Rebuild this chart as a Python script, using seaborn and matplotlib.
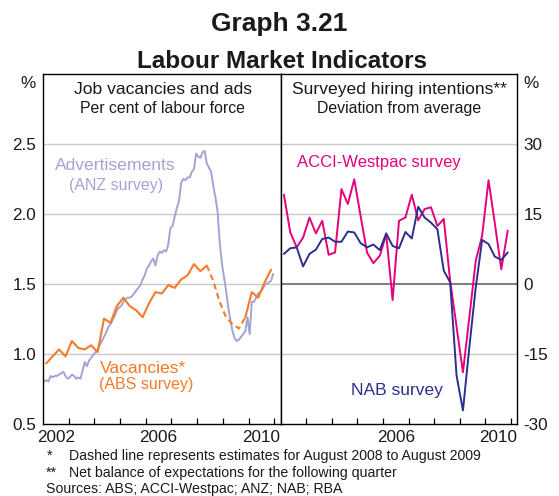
import numpy as np
import pandas as pd
import matplotlib
matplotlib.use("Agg")
import matplotlib.pyplot as plt
import seaborn as sns
from matplotlib.ticker import FixedLocator, FixedFormatter, NullFormatter

# ---------------------------------------------------------------- data
# ANZ job advertisements, per cent of labour force, monthly Jan 2002 - Dec 2010
anz_ads = [
    0.80, 0.81, 0.80, 0.84, 0.83, 0.84, 0.84, 0.85, 0.86, 0.87, 0.84, 0.82,  # 2002
    0.83, 0.85, 0.84, 0.82, 0.83, 0.82, 0.88, 0.94, 0.91, 0.95, 0.97, 0.99,  # 2003
    1.01, 1.03, 1.06, 1.09, 1.12, 1.15, 1.19, 1.21, 1.24, 1.27, 1.31, 1.33,  # 2004
    1.34, 1.37, 1.39, 1.40, 1.40, 1.41, 1.43, 1.45, 1.47, 1.49, 1.53, 1.56,  # 2005
    1.61, 1.63, 1.66, 1.68, 1.63, 1.70, 1.73, 1.72, 1.74, 1.73, 1.78, 1.90,  # 2006
    1.91, 1.98, 2.04, 2.09, 2.22, 2.25, 2.24, 2.26, 2.26, 2.30, 2.32, 2.43,  # 2007
    2.41, 2.40, 2.44, 2.45, 2.36, 2.33, 2.30, 2.20, 2.12, 2.02, 1.80, 1.65,  # 2008
    1.55, 1.45, 1.33, 1.24, 1.16, 1.11, 1.09, 1.10, 1.12, 1.14, 1.16, 1.26,  # 2009
    1.14, 1.37, 1.37, 1.40, 1.43, 1.44, 1.46, 1.49, 1.50, 1.51, 1.52, 1.57,  # 2010
]

# ABS job vacancies, per cent of labour force, quarterly Feb 2002 - Nov 2010
abs_vacancies = [
    0.93, 0.98, 1.03, 0.98,
    1.09, 1.04, 1.03, 1.06,
    1.01, 1.25, 1.22, 1.34,
    1.40, 1.34, 1.31, 1.26,
    1.36, 1.44, 1.43, 1.49,
    1.47, 1.53, 1.56, 1.64,
    1.59, 1.63, 1.52, 1.37,
    1.26, 1.21, 1.18, 1.26,
    1.44, 1.40, 1.51, 1.60,
]
# quarters drawn dashed (estimates Aug 2008 - Aug 2009 and the links to them)
est_first, est_last = 25, 31

# Surveyed hiring intentions, deviation from average, quarterly Feb 2002 - Nov 2010
acci_westpac = [
    19.1, 11.0, 7.8, 9.9,
    14.2, 10.8, 13.5, 6.2,
    6.7, 20.3, 17.1, 22.4,
    14.5, 6.7, 4.4, 6.0,
    10.6, -3.5, 13.5, 14.2,
    19.1, 13.6, 16.0, 16.4,
    12.4, 13.9, 0.6, -9.2,
    -19.0, -7.2, 4.9, 10.3,
    22.2, 12.8, 3.1, 11.4,
]
nab = [
    6.4, 7.6, 7.8, 3.7,
    6.4, 7.3, 9.6, 9.9,
    9.0, 9.0, 11.2, 11.0,
    8.7, 7.8, 8.4, 7.2,
    10.8, 8.1, 7.6, 11.1,
    9.7, 16.5, 14.2, 13.1,
    11.7, 2.8, 0.3, -19.7,
    -27.2, -13.6, -0.8, 9.4,
    8.5, 5.8, 5.1, 6.7,
]

left_yticks = [0.5, 1.0, 1.5, 2.0, 2.5]
left_ylabels = ["0.5", "1.0", "1.5", "2.0", "2.5"]
right_yticks = [-30, -15, 0, 15, 30]
right_ylabels = ["-30", "-15", "0", "15", "30"]
left_year_labels = ["2002", "2006", "2010"]
right_year_labels = ["2006", "2010"]

# ---------------------------------------------------------------- frames
ads_df = pd.DataFrame({"date": 2002 + (np.arange(len(anz_ads)) + 0.5) / 12,
                       "value": anz_ads})
q_dates = 2002 + (np.arange(len(abs_vacancies)) * 3 + 1.5) / 12
vac_df = pd.DataFrame({"date": q_dates, "value": abs_vacancies})
acci_df = pd.DataFrame({"date": q_dates, "value": acci_westpac})
nab_df = pd.DataFrame({"date": q_dates, "value": nab})

# ---------------------------------------------------------------- style
sns.set_style("white")
plt.rcParams["font.family"] = ["Liberation Sans", "DejaVu Sans"]

LAVENDER = "#a3a3d6"
ORANGE = "#f47b2a"
MAGENTA = "#e5007d"
NAVY = "#2b2f8f"
GRID = "#c9c9c9"

W, H = 559, 496


def fx(x):
    return x / W


def fy(y):
    return 1 - y / H


fig = plt.figure(figsize=(W / 100, H / 100), dpi=100)
top, bottom = 74, 423.5
axL = fig.add_axes([fx(43), fy(bottom), (280.7 - 43) / W, (bottom - top) / H])
axR = fig.add_axes([fx(280.7), fy(bottom), (517.3 - 280.7) / W, (bottom - top) / H])

LW = 1.4

# left panel: job vacancies and ads
for y in [1.0, 1.5, 2.0, 2.5]:
    axL.axhline(y, color=GRID, lw=1.0, zorder=0)
sns.lineplot(data=ads_df, x="date", y="value", ax=axL, color=LAVENDER,
             lw=LW, estimator=None, sort=False)
sns.lineplot(data=vac_df.iloc[:est_first + 1], x="date", y="value", ax=axL,
             color=ORANGE, lw=LW + 0.1, estimator=None, sort=False)
sns.lineplot(data=vac_df.iloc[est_first:est_last + 1], x="date", y="value",
             ax=axL, color=ORANGE, lw=LW + 0.1, estimator=None, sort=False,
             linestyle=(0, (2.8, 1.9)))
sns.lineplot(data=vac_df.iloc[est_last:], x="date", y="value", ax=axL,
             color=ORANGE, lw=LW + 0.1, estimator=None, sort=False)
axL.set_ylim(0.5, 3.0)

# right panel: hiring intentions
for y in [-15, 15, 30]:
    axR.axhline(y, color=GRID, lw=1.0, zorder=0)
axR.axhline(0, color="#808080", lw=1.5, zorder=0)
sns.lineplot(data=acci_df, x="date", y="value", ax=axR, color=MAGENTA,
             lw=LW, estimator=None, sort=False)
sns.lineplot(data=nab_df, x="date", y="value", ax=axR, color=NAVY,
             lw=LW, estimator=None, sort=False)
axR.set_ylim(-30, 45)

for ax, labels in ((axL, left_year_labels), (axR, right_year_labels)):
    ax.set_xlim(2002, 2011.25)
    ax.set_xlabel("")
    ax.set_ylabel("")
    ax.xaxis.set_major_locator(FixedLocator(list(range(2003, 2012))))
    ax.xaxis.set_major_formatter(NullFormatter())
    ax.xaxis.set_minor_locator(FixedLocator([int(s) + 0.5 for s in labels]))
    ax.xaxis.set_minor_formatter(FixedFormatter(labels))
    ax.tick_params(axis="x", which="major", direction="in", length=4.5,
                   width=0.9, color="black", bottom=True)
    ax.tick_params(axis="x", which="minor", length=0, labelsize=12.3,
                   pad=5, bottom=True, labelcolor="#1a1a1a")
    for sp in ax.spines.values():
        sp.set_visible(True)
        sp.set_color("black")
        sp.set_linewidth(1.0)

axL.set_yticks(left_yticks)
axL.set_yticklabels(left_ylabels)
axL.tick_params(axis="y", length=0, labelsize=12.3, pad=5, labelcolor="#1a1a1a")
axR.yaxis.tick_right()
axR.set_yticks(right_yticks)
axR.set_yticklabels(right_ylabels)
axR.tick_params(axis="y", length=0, labelsize=12.3, pad=4.5, labelcolor="#1a1a1a",
                left=False, right=False, labelleft=False, labelright=True)

# ---------------------------------------------------------------- text
TXT = "#1a1a1a"
fig.text(fx(279.5), fy(31.4), "Graph 3.21", ha="center", va="baseline",
         fontsize=19, fontweight="bold", color=TXT)
fig.text(fx(282), fy(68), "Labour Market Indicators", ha="center",
         va="baseline", fontsize=17.5, fontweight="bold", color=TXT)

fig.text(fx(162.5), fy(94), "Job vacancies and ads", ha="center",
         va="baseline", fontsize=12.6, color=TXT)
fig.text(fx(162.5), fy(113.3), "Per cent of labour force", ha="center",
         va="baseline", fontsize=11.4, color=TXT)
fig.text(fx(399.5), fy(94), "Surveyed hiring intentions**", ha="center",
         va="baseline", fontsize=12.6, color=TXT)
fig.text(fx(399.5), fy(113.3), "Deviation from average", ha="center",
         va="baseline", fontsize=11.4, color=TXT)
fig.text(fx(28), fy(88.3), "%", ha="center", va="baseline", fontsize=12.3,
         color=TXT)
fig.text(fx(531), fy(88.3), "%", ha="center", va="baseline", fontsize=12.3,
         color=TXT)

fig.text(fx(115.5), fy(170), "Advertisements", ha="center", va="baseline",
         fontsize=12.6, color=LAVENDER)
fig.text(fx(116.3), fy(189.6), "(ANZ survey)", ha="center", va="baseline",
         fontsize=11.5, color=LAVENDER)
fig.text(fx(142.7), fy(373.3), "Vacancies*", ha="center", va="baseline",
         fontsize=12.6, color=ORANGE)
fig.text(fx(146.3), fy(389.5), "(ABS survey)", ha="center", va="baseline",
         fontsize=11.5, color=ORANGE)
fig.text(fx(378.7), fy(167.3), "ACCI-Westpac survey", ha="center",
         va="baseline", fontsize=12.0, color=MAGENTA)
fig.text(fx(396.8), fy(395), "NAB survey", ha="center", va="baseline",
         fontsize=12.5, color=NAVY)

FN = 10.2
fig.text(fx(47), fy(460), "*", ha="left", va="baseline", fontsize=FN, color=TXT)
fig.text(fx(69), fy(460),
         "Dashed line represents estimates for August 2008 to August 2009",
         ha="left", va="baseline", fontsize=FN, color=TXT)
fig.text(fx(45.5), fy(477), "**", ha="left", va="baseline", fontsize=FN, color=TXT)
fig.text(fx(69), fy(477), "Net balance of expectations for the following quarter",
         ha="left", va="baseline", fontsize=FN, color=TXT)
fig.text(fx(45.5), fy(493.5), "Sources: ABS; ACCI-Westpac; ANZ; NAB; RBA",
         ha="left", va="baseline", fontsize=FN, color=TXT)

fig.savefig("out.png", dpi=100)
